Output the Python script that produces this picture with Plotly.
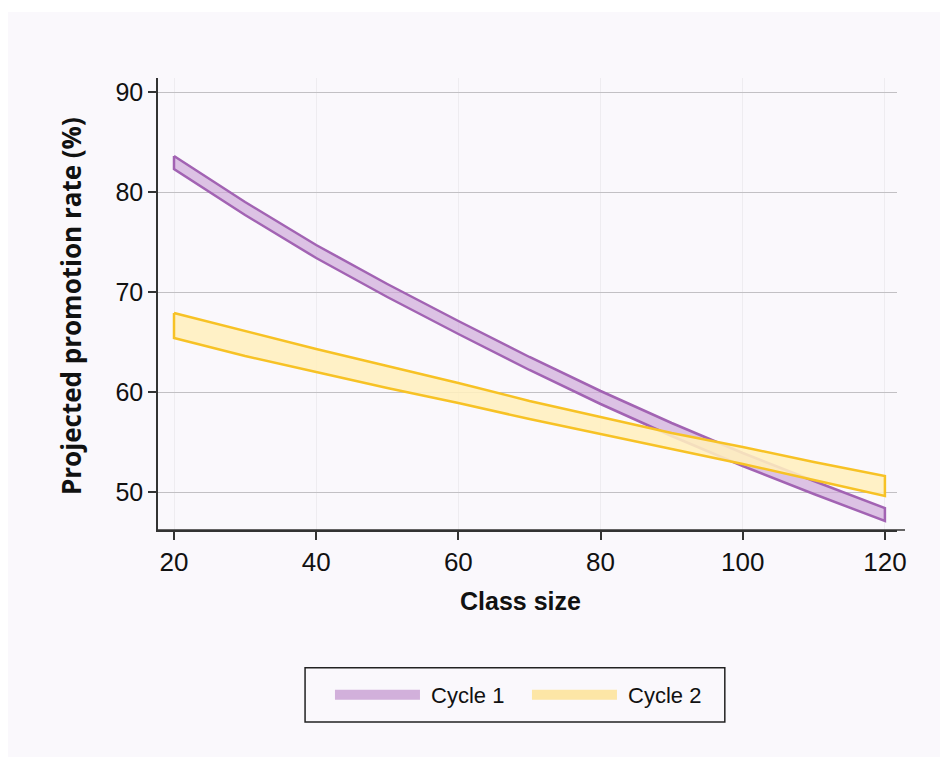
import plotly.graph_objects as go

class_size = [20, 30, 40, 50, 60, 70, 80, 90, 100, 110, 120]
cycle1_upper = [83.6, 79.0, 74.7, 70.8, 67.1, 63.5, 60.1, 56.9, 53.9, 51.1, 48.4]
cycle1_lower = [82.3, 77.7, 73.4, 69.5, 65.8, 62.2, 58.8, 55.6, 52.6, 49.8, 47.1]
cycle2_upper = [67.9, 66.1, 64.3, 62.6, 60.9, 59.1, 57.5, 55.9, 54.5, 53.0, 51.6]
cycle2_lower = [65.4, 63.6, 62.0, 60.4, 58.9, 57.3, 55.8, 54.3, 52.8, 51.2, 49.6]

x_title = "Class size"
y_title = "Projected promotion rate (%)"
series_names = ["Cycle 1", "Cycle 2"]

styles = [
    ("#a263b3", "rgba(205,165,215,0.65)", "#d2b0db"),
    ("#f7c225", "rgba(255,239,190,0.88)", "#fde6a6"),
]
bands = [(cycle1_upper, cycle1_lower), (cycle2_upper, cycle2_lower)]

fig = go.Figure()
for name, (up, lo), (line_c, fill_c, leg_c) in zip(series_names, bands, styles):
    xs = class_size + class_size[::-1] + [class_size[0]]
    ys = up + lo[::-1] + [up[0]]
    fig.add_trace(go.Scatter(
        x=xs, y=ys, mode="lines", fill="toself", name=name,
        line=dict(color=line_c, width=2.5), fillcolor=fill_c,
        hoverinfo="skip", showlegend=False,
    ))
    # legend swatch only
    fig.add_trace(go.Scatter(
        x=[None], y=[None], mode="lines", name="\u00a0" + name,
        line=dict(color=leg_c, width=12), hoverinfo="skip",
    ))

bg = "#faf8fc"
font_main = "Liberation Sans, Arial, Helvetica, sans-serif"
fig.update_layout(
    width=948, height=769,
    paper_bgcolor="white", plot_bgcolor=bg,
    margin=dict(l=150, r=59, t=70, b=247),
    font=dict(family=font_main, color="#111"),
    showlegend=True,
    legend=dict(
        orientation="h", x=0.2327, xanchor="left", y=-0.365, yanchor="middle",
        borderwidth=0, bgcolor="rgba(0,0,0,0)",
        font=dict(size=22, family=font_main),
        itemwidth=85, entrywidth=97,
    ),
    shapes=[
        dict(type="rect", xref="paper", yref="paper", layer="below",
             x0=-0.2084, x1=1.0636, y0=-0.502, y1=1.146,
             fillcolor=bg, line=dict(width=0)),
        dict(type="rect", xref="paper", yref="paper",
             x0=0.199, x1=0.767, y0=-0.425, y1=-0.305,
             fillcolor="rgba(0,0,0,0)", line=dict(color="#222", width=1.5)),
        dict(type="line", xref="paper", yref="paper",
             x0=0, x1=1.0108, y0=0, y1=0, line=dict(color="#333", width=1.5)),
    ],
    annotations=[
        dict(text="<b>" + y_title + "</b>", xref="paper", yref="paper",
             x=-0.1177, y=0.4956, xanchor="center", yanchor="middle",
             textangle=-90, showarrow=False,
             font=dict(size=26, family="Open Sans, Liberation Sans, sans-serif", color="#111")),
        dict(text="<b>" + x_title + "</b>", xref="paper", yref="paper",
             x=0.4912, y=-0.157, xanchor="center", yanchor="middle",
             showarrow=False, font=dict(size=25, family=font_main, color="#111")),
    ],
)
fig.update_xaxes(
    range=[17.75, 121.7], tickvals=[20, 40, 60, 80, 100, 120],
    showline=True, linecolor="#333", linewidth=1.5,
    ticks="outside", ticklen=8, tickcolor="#333", tickwidth=1.5,
    showgrid=True, gridcolor="#eeecf0", gridwidth=1, zeroline=False,
    tickfont=dict(size=26),
)
fig.update_yaxes(
    range=[46.2, 91.4], tickvals=[50, 60, 70, 80, 90],
    showline=True, linecolor="#333", linewidth=1.5,
    ticks="outside", ticklen=8, tickcolor="#333", tickwidth=1.5,
    showgrid=True, gridcolor="#c2c0c4", gridwidth=1, zeroline=False,
    tickfont=dict(size=25),
)
fig.write_html("out.html")
